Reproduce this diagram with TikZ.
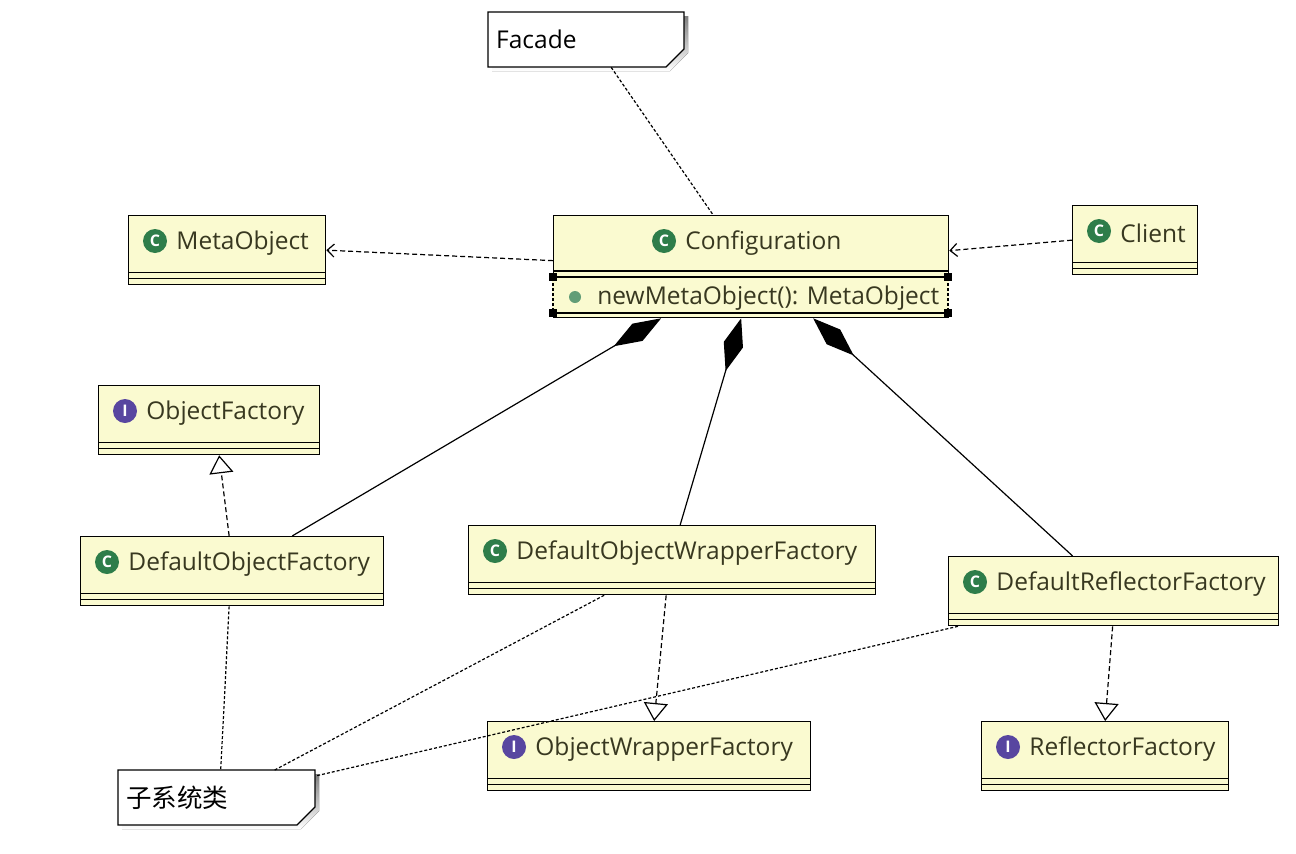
\documentclass[tikz,border=0pt]{standalone}
\usepackage{fontspec}
\setmainfont{Open Sans}
\newfontfamily\cjk{Noto Sans CJK SC}
\usetikzlibrary{arrows.meta,positioning,calc}
\definecolor{umlfill}{RGB}{250,250,208}
\definecolor{umltext}{RGB}{56,56,32}
\definecolor{cgreen}{RGB}{46,125,74}
\definecolor{ipurple}{RGB}{88,70,160}
\definecolor{shade}{RGB}{70,70,70}
\tikzstyle{cls}=[draw, fill=umlfill, line width=1.3pt, anchor=north west, minimum height=69, inner sep=0pt]
\tikzstyle{cicon}=[circle, fill=cgreen, text=white, minimum size=24, inner sep=0pt, font=\fontsize{16}{16}\selectfont\bfseries]
\tikzstyle{iicon}=[cicon, fill=ipurple]
\tikzstyle{lbl}=[anchor=west, inner sep=0pt, text=umltext, font=\fontsize{24.5}{28}\selectfont]
\tikzstyle{dep}=[line width=1.2pt, dash pattern=on 5pt off 3pt, -{Straight Barb[length=7pt,width=13pt]}]
\tikzstyle{real}=[line width=1.2pt, dash pattern=on 5pt off 3pt, -{Triangle[open,length=18pt,width=24pt]}]
\tikzstyle{comp}=[line width=1.2pt, -{Diamond[length=55pt,width=20pt]}]
\tikzstyle{noteline}=[line width=1.2pt, dash pattern=on 3pt off 2pt]

% class box: name, x, y, width, icon style, letter, text
\newcommand{\umlclass}[7]{%
  \node[cls, minimum width=#4] (#1) at (#2,#3) {};
  \node[#5] (#1-i) at ([xshift=27pt,yshift=-26pt]#1.north west) {#6};
  \node[lbl, right=9pt of #1-i, yshift=-2pt] (#1-t) {#7};
  \draw[line width=1.3pt] ([yshift=13pt]#1.south west) -- ([yshift=13pt]#1.south east)
    ([yshift=6.5pt]#1.south west) -- ([yshift=6.5pt]#1.south east);}
% note: name, x, y, width, text
\newcommand{\umlnote}[5]{%
  \fill[shade] (#2+4,#3+4) -- ++(#4,0) -- ++(0,37) -- ++(-18,18) -- ++(-#4+18,0) -- cycle;
  \draw[line width=1.3pt, fill=white] (#2,#3) -- ++(#4,0) -- ++(0,37) -- ++(-18,18) -- ++(-#4+18,0) -- cycle;
  \node[inner sep=0pt, minimum width=#4, minimum height=55, anchor=north west] (#1) at (#2,#3) {};
  \node[anchor=west, inner sep=0pt, font=\fontsize{24.5}{28}\selectfont] (#1-t) at ([xshift=8pt]#1.west) {#5};}

\begin{document}
\begin{tikzpicture}[x=1pt,y=-1pt]
\useasboundingbox[fill=white] (0,0) rectangle (1296,854);
\umlnote{facade}{488}{12}{196}{Facade}
\umlnote{sub}{118}{770}{197}{{\cjk\fontsize{25.5}{28}\selectfont 子系统类}}

% Configuration with its method
\node[cls, minimum width=395, minimum height=102] (conf) at (553,215) {};
\node[cicon] (conf-i) at (664,241) {C};
\node[lbl, right=9pt of conf-i, yshift=-2pt] (conf-t) {Configuration};
\draw[line width=1.3pt] (553,271) -- (948,271) (553,277) -- (948,277) (553,313) -- (948,313);
\draw[umlfill, line width=2pt] (553,278) -- (553,312) (948,278) -- (948,312);
\draw[noteline] (553,278) -- (553,312) (948,278) -- (948,312);
\foreach \x in {553,948} \foreach \y in {277,313} \fill (\x-4,\y-4) rectangle ++(8,8);
\node[circle, fill=cgreen!75, minimum size=12, inner sep=0pt] (m-dot) at (575,297) {};
\node[lbl, right=16pt of m-dot, yshift=-1pt] (m-t) {newMetaObject(): MetaObject};

\umlclass{meta}{128}{215}{197}{cicon}{C}{MetaObject}
\umlclass{client}{1072}{205}{125}{cicon}{C}{Client}
\umlclass{of}{98}{385}{221}{iicon}{I}{ObjectFactory}
\umlclass{dof}{80}{536}{303}{cicon}{C}{DefaultObjectFactory}
\umlclass{dowf}{468}{525}{407}{cicon}{C}{DefaultObjectWrapperFactory}
\umlclass{drf}{948}{556}{330}{cicon}{C}{DefaultReflectorFactory}
\umlclass{owf}{487}{721}{323}{iicon}{I}{ObjectWrapperFactory}
\umlclass{rf}{981}{721}{247}{iicon}{I}{ReflectorFactory}

\draw[noteline] ([xshift=25pt]facade.south) -- ([xshift=-38pt]conf.north);
\draw[dep] ([yshift=6pt]conf.west) -- (meta.east);
\draw[dep] (client.west) -- ([yshift=16pt]conf.east);

\draw[comp] ([xshift=60pt]dof.north) -- ([xshift=-90pt]conf.south);
\draw[comp] ([xshift=8pt]dowf.north) -- ([xshift=-10pt]conf.south);
\draw[comp] ([xshift=-41pt]drf.north) -- ([xshift=62pt]conf.south);

\draw[real] ([xshift=-3pt]dof.north) -- ([xshift=10pt]of.south);
\draw[real] ([xshift=-6pt]dowf.south) -- ([xshift=5pt]owf.north);
\draw[real] ([xshift=-1pt]drf.south) -- (rf.north);

\draw[noteline] ([xshift=-3pt]dof.south) -- ([xshift=4pt]sub.north);
\draw[noteline] ([xshift=-68pt]dowf.south) -- ([xshift=58pt]sub.north);
\draw[noteline] ([xshift=10pt]drf.south west) -- ([yshift=-6pt]sub.north east);
\end{tikzpicture}
\end{document}
